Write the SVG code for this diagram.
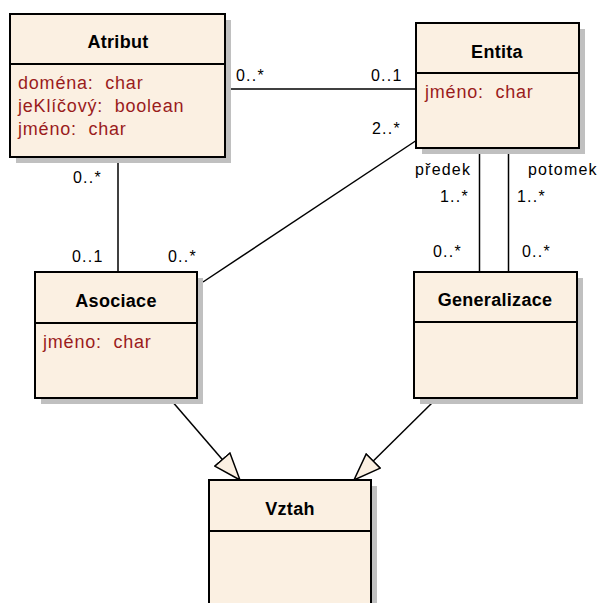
<svg xmlns="http://www.w3.org/2000/svg" width="604" height="603" viewBox="0 0 604 603">
  <style>
    .shadow { fill: #c0c0c0; }
    .box { fill: #fbf0e2; stroke: #000; stroke-width: 2; }
    .div { stroke: #000; stroke-width: 2; }
    .title { font-family: "Liberation Sans", Arial, sans-serif; font-weight: bold; font-size: 18px; fill: #000; text-anchor: middle; letter-spacing: 0.3px; }
    .attr { font-family: "Liberation Sans", Arial, sans-serif; font-size: 18px; fill: #9a1c1c; letter-spacing: 0.8px; }
    .line { stroke: #000; stroke-width: 1.5; fill: none; }
    .mult { font-family: "Liberation Sans", Arial, sans-serif; font-size: 16px; fill: #000; letter-spacing: 1.2px; }
  </style>
  <defs>
    <marker id="gen" viewBox="0 0 28 22" refX="28" refY="11" markerWidth="28" markerHeight="22" markerUnits="userSpaceOnUse" orient="auto">
      <path d="M1,1 L28,11 L1,21 Z" fill="#fbf0e2" stroke="#000" stroke-width="1.5"/>
    </marker>
  </defs>

  <!-- connectors -->
  <g id="connectors">
    <line class="line" x1="225" y1="89" x2="416" y2="89"/>
    <line class="line" x1="118" y1="157" x2="118" y2="272"/>
    <line class="line" x1="417" y1="140" x2="203" y2="282"/>
    <line class="line" x1="479.5" y1="148" x2="479.5" y2="272"/>
    <line class="line" x1="508.5" y1="148" x2="508.5" y2="272"/>
    <line class="line" x1="171" y1="400" x2="240" y2="480" marker-end="url(#gen)"/>
    <line class="line" x1="434" y1="401" x2="354" y2="480" marker-end="url(#gen)"/>
    <g xml:space="preserve">
      <text class="mult" x="236" y="81">0..*</text>
      <text class="mult" x="371" y="81">0..1</text>
      <text class="mult" x="372" y="134">2..*</text>
      <text class="mult" x="73" y="183">0..*</text>
      <text class="mult" x="72" y="262">0..1</text>
      <text class="mult" x="168" y="262">0..*</text>
      <text class="mult" x="415" y="175">předek</text>
      <text class="mult" x="528" y="175">potomek</text>
      <text class="mult" x="440" y="202">1..*</text>
      <text class="mult" x="517" y="202">1..*</text>
      <text class="mult" x="433" y="257">0..*</text>
      <text class="mult" x="522" y="257">0..*</text>
    </g>
  </g>

  <g id="atribut">
    <rect class="shadow" x="16" y="20" width="215" height="143"/>
    <rect class="box" x="10" y="14" width="215" height="143"/>
    <line class="div" x1="10" y1="64" x2="225" y2="64"/>
    <text class="title" x="118" y="48">Atribut</text>
    <text class="attr" x="18" y="89" xml:space="preserve">doména:  char</text>
    <text class="attr" x="18" y="112" xml:space="preserve">jeKlíčový:  boolean</text>
    <text class="attr" x="18" y="135" xml:space="preserve">jméno:  char</text>
  </g>

  <g id="entita">
    <rect class="shadow" x="422" y="29" width="163" height="125"/>
    <rect class="box" x="416" y="23" width="163" height="125"/>
    <line class="div" x1="416" y1="73" x2="579" y2="73"/>
    <text class="title" x="497" y="58">Entita</text>
    <text class="attr" x="425" y="98" xml:space="preserve">jméno:  char</text>
  </g>

  <g id="asociace">
    <rect class="shadow" x="41" y="278" width="162" height="126"/>
    <rect class="box" x="35" y="272" width="162" height="126"/>
    <line class="div" x1="35" y1="323" x2="197" y2="323"/>
    <text class="title" x="116" y="307">Asociace</text>
    <text class="attr" x="43" y="348" xml:space="preserve">jméno:  char</text>
  </g>

  <g id="generalizace">
    <rect class="shadow" x="420" y="278" width="163" height="126"/>
    <rect class="box" x="414" y="272" width="163" height="126"/>
    <line class="div" x1="414" y1="322" x2="577" y2="322"/>
    <text class="title" x="495" y="306">Generalizace</text>
  </g>

  <g id="vztah">
    <rect class="shadow" x="215" y="486" width="162" height="140"/>
    <rect class="box" x="209" y="480" width="162" height="140"/>
    <line class="div" x1="209" y1="531" x2="371" y2="531"/>
    <text class="title" x="290" y="515">Vztah</text>
  </g>
</svg>
